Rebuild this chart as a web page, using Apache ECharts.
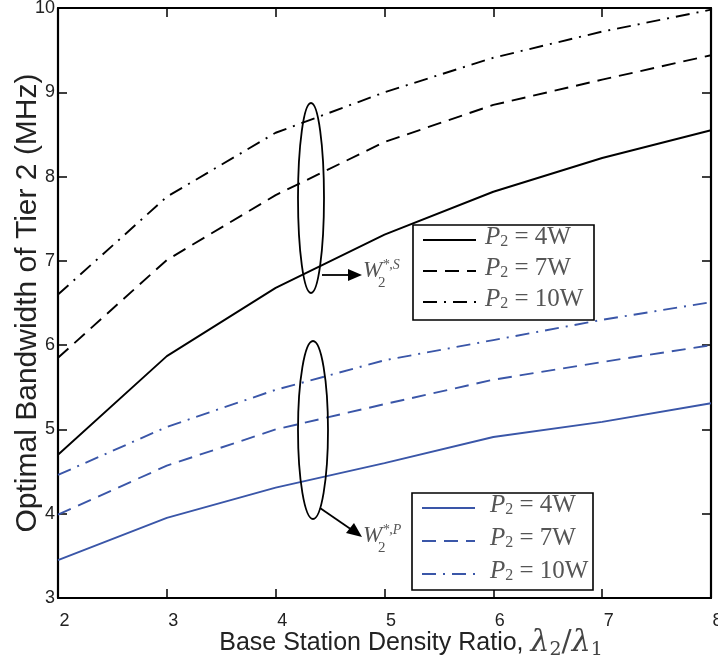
<!DOCTYPE html>
<html><head><meta charset="utf-8">
<script src="https://cdn.jsdelivr.net/npm/echarts@6/dist/echarts.min.js"></script>
<style>html,body{margin:0;padding:0;background:#fff}#c{width:718px;height:668px}</style>
</head><body><div id="c"></div>
<script>
const xVals = [2, 3, 4, 5, 6, 7, 8];
const xTicks = ['2','3','4','5','6','7','8'];
const yTicks = ['3','4','5','6','7','8','9','10'];
const s4W  = [4.70, 5.87, 6.68, 7.31, 7.82, 8.22, 8.55];
const s7W  = [5.85, 7.01, 7.78, 8.41, 8.85, 9.15, 9.44];
const s10W = [6.60, 7.76, 8.52, 9.00, 9.41, 9.72, 9.98];
const p4W  = [3.45, 3.95, 4.31, 4.60, 4.91, 5.09, 5.31];
const p7W  = [3.99, 4.57, 5.00, 5.30, 5.59, 5.80, 6.00];
const p10W = [4.46, 5.03, 5.47, 5.82, 6.06, 6.30, 6.51];
const legendLabels = ['4W', '7W', '10W'];

const BLUE = '#3a56a8';
const DASH = [14, 8];
const DASHDOT = [14, 7, 2, 7];
const pairs = a => xVals.map((x, i) => [x, a[i]]);
function mk(name, data, color, type) {
  return {name, type:'line', data: pairs(data), showSymbol:false, symbol:'none', xAxisIndex:0, yAxisIndex:0,
    lineStyle:{color, width:1.9, type}, itemStyle:{color}, animation:false, z:3};
}
const chart = echarts.init(document.getElementById('c'), null, {renderer:'canvas'});

function legendBox(x, y, h, first, gap, textX, color) {
  const els = [{type:'rect', shape:{x:x, y:y, width:181, height:h}, style:{fill:'#fff', stroke:'#000', lineWidth:1.6}, z:30}];
  const types = [null, DASH, DASHDOT];
  for (let i = 0; i < 3; i++) {
    const ly = y + first + i * gap;
    els.push({type:'line', shape:{x1:x+10, y1:ly, x2:x+63, y2:ly},
      style:{stroke:color, lineWidth:1.9, lineDash: types[i]}, z:31});
    els.push({type:'text', x:textX, y:ly-16, style:{
      text:'{p|P}{s|2}{e| = ' + legendLabels[i] + '}',
      rich:{
        p:{fontFamily:'Liberation Serif', fontStyle:'italic', fontSize:25, fill:'#555'},
        s:{fontFamily:'Liberation Serif', fontSize:16, fill:'#555', padding:[10,0,0,0]},
        e:{fontFamily:'Liberation Serif', fontSize:25, fill:'#555'}
      }}, z:31});
  }
  return els;
}
function wLabel(x, y, sup) {
  return [
    {type:'text', x:x, y:y, style:{text:'{w|W}{sp|' + sup + '}', rich:{
      w:{fontFamily:'Liberation Serif', fontStyle:'italic', fontSize:23, fill:'#555'},
      sp:{fontFamily:'Liberation Serif', fontStyle:'italic', fontSize:14, fill:'#555', padding:[0,0,12,0]}}}, z:20},
    {type:'text', x:x+15, y:y+18, style:{text:'2', fontFamily:'Liberation Serif', fontSize:15, fill:'#555'}, z:20}
  ];
}

const option = {
  backgroundColor:'#fff',
  animation:false,
  grid:{left:58, top:8, right:7, bottom:70, containLabel:false, outerBoundsMode:'none'},
  xAxis:[{
    type:'value', min:2, max:8, interval:1, position:'bottom',
    axisLine:{show:true, onZero:false, lineStyle:{color:'#000', width:2.2}},
    axisTick:{show:true, inside:true, length:9, lineStyle:{color:'#000', width:1.5}},
    axisLabel:{color:'#222', fontSize:18, fontFamily:'Liberation Sans', margin:14, padding:[0,0,0,13], formatter:v => xTicks[v-2]},
    splitLine:{show:false},
    name:'{a|Base Station Density Ratio, }{m|λ}{s|2}{sl|/}{m|λ}{s|1}',
    nameLocation:'middle', nameGap:29, nameMoveOverlap:false,
    nameTextStyle:{padding:[0,0,0,53], rich:{
      a:{fontFamily:'Liberation Sans', fontSize:25, color:'#222'},
      m:{fontFamily:'DejaVu Serif', fontStyle:'italic', fontSize:30, color:'#444'},
      sl:{fontFamily:'DejaVu Serif', fontSize:30, color:'#444'},
      s:{fontFamily:'DejaVu Serif', fontSize:19, color:'#444', padding:[14,0,0,0]}
    }}
  },{
    type:'value', min:2, max:8, interval:1, position:'top',
    axisLine:{show:true, onZero:false, lineStyle:{color:'#000', width:2.2}},
    axisTick:{show:true, inside:true, length:9, lineStyle:{color:'#000', width:1.5}},
    axisLabel:{show:false}, splitLine:{show:false}
  }],
  yAxis:[{
    type:'value', min:3, max:10, interval:1, position:'left',
    axisLine:{show:true, onZero:false, lineStyle:{color:'#000', width:2.2}},
    axisTick:{show:true, inside:true, length:9, lineStyle:{color:'#000', width:1.5}},
    axisLabel:{color:'#222', fontSize:18, fontFamily:'Liberation Sans', margin:3, formatter:v => yTicks[v-3]},
    splitLine:{show:false},
    name:'Optimal Bandwidth of Tier 2 (MHz)', nameLocation:'middle', nameGap:15, nameMoveOverlap:false,
    nameTextStyle:{fontFamily:'Liberation Sans', fontSize:30, color:'#222'}
  },{
    type:'value', min:3, max:10, interval:1, position:'right',
    axisLine:{show:true, onZero:false, lineStyle:{color:'#000', width:2.2}},
    axisTick:{show:true, inside:true, length:9, lineStyle:{color:'#000', width:1.5}},
    axisLabel:{show:false}, splitLine:{show:false}
  }],
  series:[
    mk('S 4W', s4W, '#000', 'solid'),
    mk('S 7W', s7W, '#000', DASH),
    mk('S 10W', s10W, '#000', DASHDOT),
    mk('P 4W', p4W, BLUE, 'solid'),
    mk('P 7W', p7W, BLUE, DASH),
    mk('P 10W', p10W, BLUE, DASHDOT)
  ],
  graphic:[
    ...legendBox(413, 225, 95, 15, 31, 485, '#000'),
    ...legendBox(412, 493, 97, 15, 33, 490, BLUE),
    {type:'ellipse', shape:{cx:311, cy:198, rx:13, ry:95}, style:{fill:null, stroke:'#000', lineWidth:1.8}, z:20},
    {type:'line', shape:{x1:322, y1:275, x2:350, y2:275}, style:{stroke:'#000', lineWidth:1.8}, z:20},
    {type:'polygon', shape:{points:[[348,269],[362,275],[348,281]]}, style:{fill:'#000'}, z:20},
    ...wLabel(363, 258, '*,S'),
    {type:'ellipse', shape:{cx:313, cy:430, rx:15, ry:89}, style:{fill:null, stroke:'#000', lineWidth:1.8}, z:20},
    {type:'line', shape:{x1:320, y1:508, x2:352, y2:530}, style:{stroke:'#000', lineWidth:1.8}, z:20},
    {type:'polygon', shape:{points:[[346,533],[362,537],[354,523]]}, style:{fill:'#000'}, z:20},
    ...wLabel(363, 523, '*,P')
  ]
};
chart.setOption(option);
</script></body></html>
